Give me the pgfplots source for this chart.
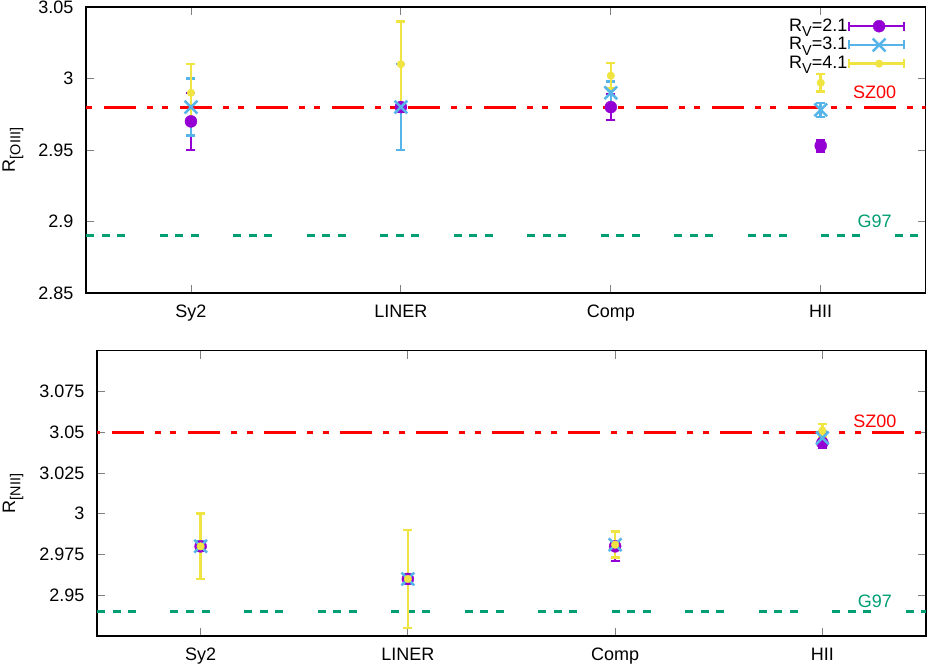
\documentclass[border=0pt]{standalone}
\usepackage{fontspec}
\setmainfont{Liberation Sans}
\usepackage{pgfplots}
\pgfplotsset{compat=1.18}
\definecolor{cpurple}{HTML}{9400D3}
\definecolor{cblue}{HTML}{56B4E9}
\definecolor{cyellow}{HTML}{F0E442}
\definecolor{cgreen}{HTML}{009E73}
\definecolor{cred}{HTML}{FF0000}
\newcommand{\sub}[1]{\raisebox{-0.3em}{\fontsize{14.4}{16}\selectfont #1}}
\newcommand{\bigfont}{\fontsize{18}{21}\selectfont}

\pgfplotstableread{
x y e
1 2.970 0.020
2 2.980 0.003
3 2.980 0.009
4 2.953 0.004
}\topP
\pgfplotstableread{
x y e
1 2.980 0.020
2 2.980 0.030
3 2.990 0.008
4 2.978 0.005
}\topB
\pgfplotstableread{
x y e
1 2.990 0.020
2 3.010 0.030
3 3.002 0.009
4 2.997 0.006
}\topY
\pgfplotstableread{
x y e
1 2.980 0.002
2 2.960 0.002
3 2.980 0.009
4 3.0435 0.003
}\botP
\pgfplotstableread{
x y e
1 2.980 0.003
2 2.960 0.003
3 2.981 0.008
4 3.0465 0.004
}\botB
\pgfplotstableread{
x y e
1 2.980 0.020
2 2.960 0.030
3 2.981 0.008
4 3.051 0.004
}\botY

\pgfplotsset{
  myaxis/.style={
    scale only axis,
    xmin=0.5, xmax=4.5,
    xtick={1,2,3,4}, xticklabels={Sy2,LINER,Comp,HII},
    tick align=inside,
    major tick length=8pt,
    tick style={gray, line width=0.8pt},
    axis line style={black, line width=1.3pt},
    every tick label/.append style={font=\bigfont},
    xticklabel style={font=\bigfont, yshift=-6pt},
    yticklabel style={font=\bigfont, xshift=-6.5pt, anchor=east},
    every axis label/.append style={font=\bigfont},
  },
  ebar/.style={error bars/.cd, y dir=both, y explicit,
    error bar style={line width=2.5pt, #1},
    error mark options={rotate=90, line width=2.5pt, mark size=4.5pt, #1},
    /pgfplots/.cd},
  szline/.style={cred, line width=2.8pt, dash pattern=on 32pt off 11pt on 6pt off 9.5pt on 6pt off 11.5pt, dash phase=#1, forget plot},
  gline/.style={cgreen, line width=2.8pt, dash pattern=on 8pt off 7.7pt on 8pt off 7.7pt on 8pt off 34.1pt, forget plot},
}

\begin{document}
\bigfont
\begin{tikzpicture}[font=\bigfont]
\useasboundingbox (0pt,0pt) rectangle (927pt,-666pt);

% ---------------- top panel
\begin{axis}[myaxis,
  at={(86pt,-293pt)}, anchor=south west,
  width=839.7pt, height=286pt,
  ymin=2.85, ymax=3.05,
  ytick={2.85,2.9,2.95,3,3.05},
  yticklabels={2.85,2.9,2.95,3,3.05},
  ylabel={R\sub{[OIII]}},
  ylabel style={at={(axis description cs:-0.0846,0.5)}, anchor=base},
  legend style={draw=none, fill=none, font=\bigfont, inner sep=0pt,
    nodes={inner sep=0.5pt},
    at={(axis description cs:0.976,0.962)}, anchor=north east,
    legend cell align=right, row sep=2.5pt},
  legend plot pos=right,
]
\addplot[szline=58.5pt] coordinates {(0.5,2.98) (4.5,2.98)};
\addplot[gline] coordinates {(0.5,2.89) (4.5,2.89)};
\node[cred, font=\bigfont] at (axis cs:4.257,2.99) {SZ00};
\node[cgreen, font=\bigfont] at (axis cs:4.257,2.9) {G97};

\addplot[only marks, mark=*, color=cpurple, mark size=6pt, ebar=cpurple,
  legend image code/.code={
    \draw[cpurple, line width=2.5pt] (0pt,0pt) -- (55pt,0pt) (0pt,-4.5pt) -- (0pt,4.5pt) (55pt,-4.5pt) -- (55pt,4.5pt);
    \draw[cpurple] plot[mark=*, mark size=6pt] coordinates {(30pt,0pt)};
  }] table[x=x, y=y, y error=e] {\topP};
\addlegendentry{R\sub{V}=2.1\hspace{12pt}}
\addplot[only marks, mark=x, color=cblue, mark size=9pt, mark options={line width=2.5pt}, ebar=cblue,
  legend image code/.code={
    \draw[cblue, line width=2.5pt] (0pt,0pt) -- (55pt,0pt) (0pt,-4.5pt) -- (0pt,4.5pt) (55pt,-4.5pt) -- (55pt,4.5pt);
    \draw[cblue, line width=2.5pt] plot[mark=x, mark size=9pt] coordinates {(30pt,0pt)};
  }] table[x=x, y=y, y error=e] {\topB};
\addlegendentry{R\sub{V}=3.1\hspace{12pt}}
\addplot[only marks, mark=*, color=cyellow, mark size=3.8pt, ebar=cyellow,
  legend image code/.code={
    \draw[cyellow, line width=2.5pt] (0pt,0pt) -- (55pt,0pt) (0pt,-4.5pt) -- (0pt,4.5pt) (55pt,-4.5pt) -- (55pt,4.5pt);
    \draw[cyellow] plot[mark=*, mark size=3.8pt] coordinates {(30pt,0pt)};
  }] table[x=x, y=y, y error=e] {\topY};
\addlegendentry{R\sub{V}=4.1\hspace{12pt}}
\end{axis}

% ---------------- bottom panel
\begin{axis}[myaxis,
  at={(97pt,-636pt)}, anchor=south west,
  width=829pt, height=285.3pt,
  ymin=2.925, ymax=3.1,
  ytick={2.95,2.975,3,3.025,3.05,3.075},
  yticklabels={2.95,2.975,3,3.025,3.05,3.075},
  ylabel={R\sub{[NII]}},
  ylabel style={at={(axis description cs:-0.0989,0.5)}, anchor=base},
]
\addplot[szline=61pt] coordinates {(0.5,3.05) (4.5,3.05)};
\addplot[gline] coordinates {(0.5,2.94) (4.5,2.94)};
\node[cred, font=\bigfont] at (axis cs:4.253,3.0568) {SZ00};
\node[cgreen, font=\bigfont] at (axis cs:4.253,2.9465) {G97};

\addplot[only marks, mark=*, color=cpurple, mark size=6pt, ebar=cpurple] table[x=x, y=y, y error=e] {\botP};
\addplot[only marks, mark=x, color=cblue, mark size=9pt, mark options={line width=2.5pt}, ebar=cblue] table[x=x, y=y, y error=e] {\botB};
\addplot[only marks, mark=*, color=cyellow, mark size=3.8pt, ebar=cyellow] table[x=x, y=y, y error=e] {\botY};
\end{axis}
\end{tikzpicture}
\end{document}
